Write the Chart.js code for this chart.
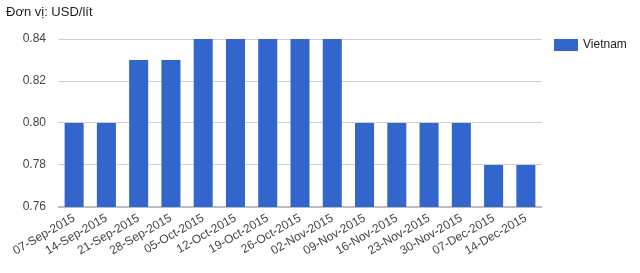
<!DOCTYPE html>
<html>
<head>
<meta charset="utf-8">
<script src="https://cdn.jsdelivr.net/npm/chart.js@4"></script>
<style>
  html, body { margin: 0; padding: 0; background: #fff; }
  #wrap { width: 640px; height: 273px; position: relative; }
</style>
</head>
<body>
<div id="wrap"><canvas id="c" width="640" height="273"></canvas></div>
<script>
// Weekly price, USD per litre
const weeks = [
  '07-Sep-2015', '14-Sep-2015', '21-Sep-2015', '28-Sep-2015', '05-Oct-2015',
  '12-Oct-2015', '19-Oct-2015', '26-Oct-2015', '02-Nov-2015', '09-Nov-2015',
  '16-Nov-2015', '23-Nov-2015', '30-Nov-2015', '07-Dec-2015', '14-Dec-2015'
];
const vietnam = [0.80, 0.80, 0.83, 0.83, 0.84, 0.84, 0.84, 0.84, 0.84, 0.80, 0.80, 0.80, 0.80, 0.78, 0.78];
const seriesName = 'Vietnam';
const unitTitle = 'Đơn vị: USD/lít';
const yTicks = [0.76, 0.78, 0.80, 0.82, 0.84];

const FONT = 'Arial, "Liberation Sans", sans-serif';
const BAR = '#3366cc';

// Unit caption in the top-left corner
const captionPlugin = {
  id: 'caption',
  afterDraw(chart) {
    const ctx = chart.ctx;
    ctx.save();
    ctx.font = '13px ' + FONT;
    ctx.fillStyle = '#222';
    ctx.textAlign = 'left';
    ctx.textBaseline = 'middle';
    ctx.fillText(unitTitle, 6, 12);
    ctx.restore();
  }
};

// Single-entry legend to the right of the plot
const sideLegend = {
  id: 'sideLegend',
  afterDraw(chart) {
    const ctx = chart.ctx;
    const a = chart.chartArea;
    const ds = chart.data.datasets[0];
    const x = a.right + 12;
    const y = a.top;
    ctx.save();
    ctx.fillStyle = ds.backgroundColor;
    ctx.fillRect(x, y, 24, 12);
    ctx.font = '12px ' + FONT;
    ctx.fillStyle = '#222';
    ctx.textAlign = 'left';
    ctx.textBaseline = 'middle';
    ctx.fillText(ds.label, x + 29, y + 6);
    ctx.restore();
  }
};

new Chart(document.getElementById('c'), {
  type: 'bar',
  data: {
    labels: weeks,
    datasets: [{
      label: seriesName,
      data: vietnam,
      backgroundColor: BAR,
      borderWidth: 0,
      categoryPercentage: 1.0,
      barPercentage: 0.59
    }]
  },
  options: {
    responsive: false,
    animation: false,
    devicePixelRatio: 1,
    layout: { padding: { left: 0, right: 98, top: 39, bottom: 0 } },
    plugins: {
      legend: { display: false },
      title: { display: false },
      tooltip: { enabled: false }
    },
    scales: {
      x: {
        grid: { display: false, drawTicks: false },
        border: { display: false },
        ticks: {
          color: '#444',
          font: { family: FONT, size: 12 },
          maxRotation: 30,
          minRotation: 30,
          autoSkip: false,
          padding: 4
        },
        afterFit(scale) { scale.height = 66; }
      },
      y: {
        min: 0.76,
        max: 0.84,
        afterBuildTicks(scale) { scale.ticks = yTicks.map(v => ({ value: v })); },
        grid: {
          drawTicks: false,
          color: ctx => (ctx.tick && ctx.tick.value === 0.76 ? '#bdbdbd' : '#d0d0d0'),
          lineWidth: ctx => (ctx.tick && ctx.tick.value === 0.76 ? 2 : 1)
        },
        border: { display: false },
        ticks: {
          color: '#444',
          font: { family: FONT, size: 12 },
          padding: 12,
          callback: v => Number(v).toFixed(2)
        },
        afterFit(scale) { scale.width = 58; }
      }
    }
  },
  plugins: [captionPlugin, sideLegend]
});
</script>
</body>
</html>
